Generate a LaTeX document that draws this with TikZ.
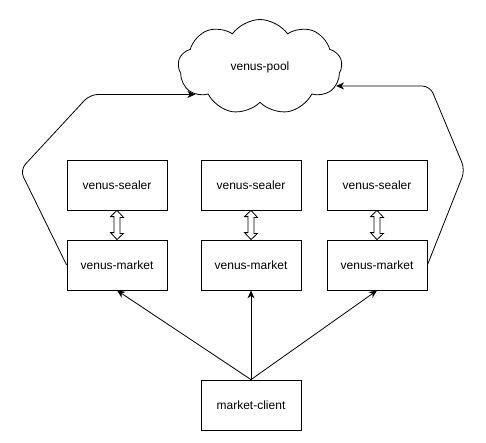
\documentclass[tikz,border=0pt]{standalone}
\usepackage{fontspec}
\setmainfont{Liberation Sans}
\usetikzlibrary{shapes.symbols,arrows.meta}

\begin{document}
\begin{tikzpicture}[x=1pt,y=-1pt,line width=0.8pt,>={Stealth[length=8pt,width=7pt]},
    every node/.style={font=\fontsize{12}{14}\selectfont}]

      \useasboundingbox (0,0) rectangle (486,442);

      \node[cloud,draw,cloud puffs=9,cloud puff arc=110,aspect=1.7,minimum width=164pt,minimum height=95pt] (pool) at (260,67) {venus-pool};

      \begin{scope}[every node/.style={rectangle,draw,minimum width=100pt,minimum height=50pt,font=\fontsize{12}{14}\selectfont}]
        \node (ls) at (117,185) {venus-sealer};
        \node (ms) at (251,185) {venus-sealer};
        \node (rs) at (377,185) {venus-sealer};
        \node (lm) at (117,265) {venus-market};
        \node (mm) at (251,265) {venus-market};
        \node (rm) at (377,265) {venus-market};
        \node (mc) at (251,405) {market-client};
      \end{scope}

      % sealer <-> market
      \foreach \s/\m in {ls/lm,ms/mm,rs/rm}
        \draw (\s.south) -- ++(6.5,7) -- ++(-3.5,0) -- ++(0,16) -- ++(3.5,0) -- (\m.north)
          -- ++(-6.5,-7) -- ++(3.5,0) -- ++(0,-16) -- ++(-3.5,0) -- cycle;

      \begin{scope}[every edge/.style={draw,->}]
        \path (mc.north) edge (lm.south);
        \path (mc.north) edge (mm.south);
        \path (mc.north) edge (rm.south);
      \end{scope}

      \draw[->,rounded corners=8pt] (lm.west) -- (20,170) -- (90,0 |- pool.203) -- (pool.203);
      \draw[->,rounded corners=8pt] (rm.east) -- (465,170) -- (430,0 |- pool.346) -- (pool.346);

    \end{tikzpicture}
\end{document}
